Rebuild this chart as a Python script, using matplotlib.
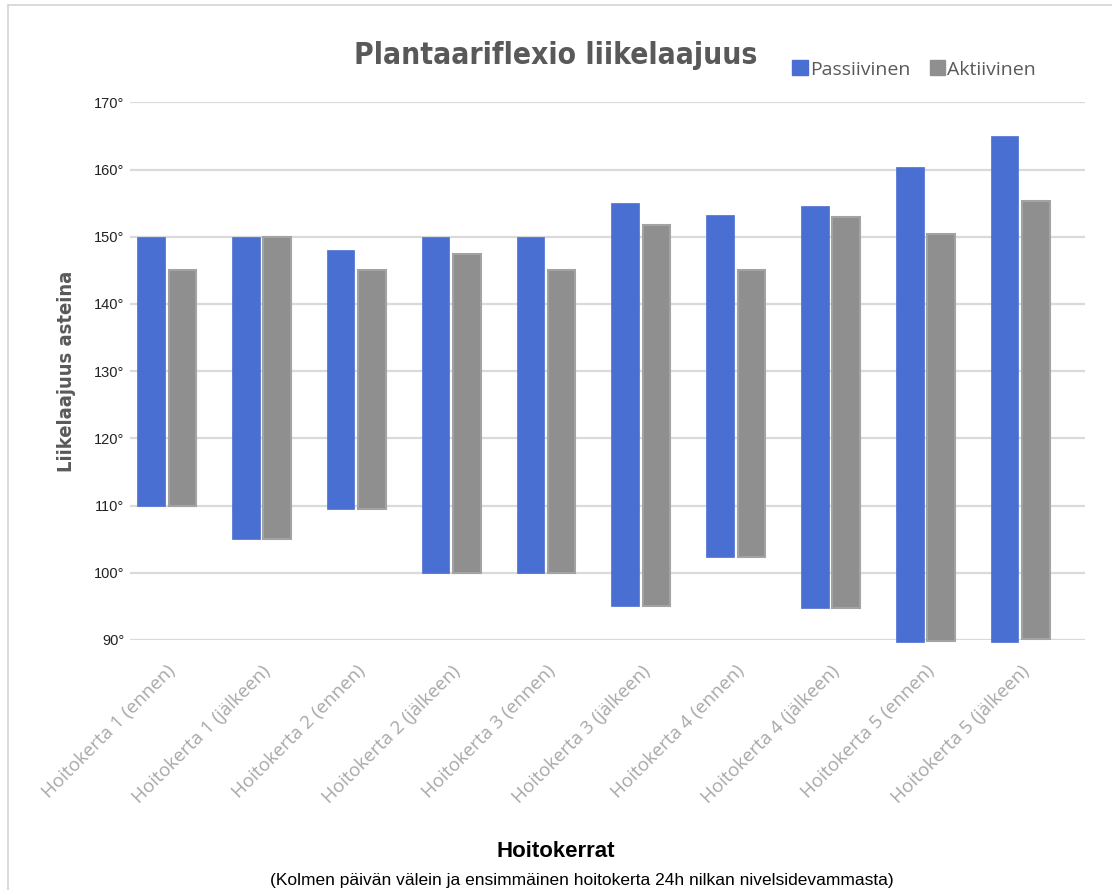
"""Plantaariflexio liikelaajuus - kelluvat palkit (passiivinen / aktiivinen)"""

import numpy as np
import matplotlib
matplotlib.use("Agg")
import matplotlib.pyplot as plt
from matplotlib.patches import Rectangle, Patch

categories = [
    "Hoitokerta 1 (ennen)", "Hoitokerta 1 (jälkeen)",
    "Hoitokerta 2 (ennen)", "Hoitokerta 2 (jälkeen)",
    "Hoitokerta 3 (ennen)", "Hoitokerta 3 (jälkeen)",
    "Hoitokerta 4 (ennen)", "Hoitokerta 4 (jälkeen)",
    "Hoitokerta 5 (ennen)", "Hoitokerta 5 (jälkeen)",
]
passive_low = [110, 105, 109.5, 100, 100, 95, 102.4, 94.7, 89.7, 89.7]
passive_high = [150, 150, 148, 150, 150, 155, 153.2, 154.6, 160.4, 165]
active_low = [110, 105, 109.5, 100, 100, 95, 102.4, 94.7, 89.8, 90.2]
active_high = [145, 150, 145, 147.5, 145, 151.8, 145, 153, 150.4, 155.3]
y_ticks = [90, 100, 110, 120, 130, 140, 150, 160, 170]

BLUE = "#4a6fd3"
GRAY = "#8f8f8f"
TEXT_GRAY = "#595959"

fig = plt.figure(figsize=(11.12, 8.90), dpi=100)
ax = fig.add_axes([0.117, 0.281, 0.859, 0.604])

x = np.arange(len(categories))
w = 0.29
lo_p = np.array(passive_low)
lo_a = np.array(active_low)
ax.bar(x - 0.165, np.array(passive_high) - lo_p, bottom=lo_p, width=w,
       color=BLUE, edgecolor=BLUE, linewidth=0.5, zorder=3)
ax.bar(x + 0.165, np.array(active_high) - lo_a, bottom=lo_a, width=w,
       color=GRAY, edgecolor="#a3a3a3", linewidth=1.5, zorder=3)

ax.set_xlim(-0.385, 9.686)
ax.set_ylim(90, 170)
ax.set_yticks(y_ticks)
ax.set_yticklabels([f"{v}°" for v in y_ticks], fontsize=10.5,
                   family="Liberation Sans", color="#222222")
ax.yaxis.grid(True, color="#dadada", linewidth=1.6, zorder=0)
ax.set_axisbelow(True)
for s in ax.spines.values():
    s.set_visible(False)
ax.tick_params(axis="both", length=0, pad=4)
for b in ax.patches:
    b.set_clip_on(False)

ax.set_xticks(x)
ax.set_xticklabels(categories, rotation=45, ha="right",
                   rotation_mode="anchor", fontsize=13.5, family="Open Sans",
                   color="#a8a8a8")
ax.tick_params(axis="x", pad=16)

ax.set_ylabel("Liikelaajuus asteina", fontsize=14.5, fontweight="bold",
              color=TEXT_GRAY, family="DejaVu Sans", fontstretch="condensed",
              labelpad=13)

fig.text(0.50, 0.938, "Plantaariflexio liikelaajuus", ha="center", va="center",
         fontsize=21.5, fontweight="bold", color=TEXT_GRAY,
         family="DejaVu Sans", fontstretch="condensed")

handles = [Patch(facecolor=BLUE, edgecolor=BLUE, label="Passiivinen"),
           Patch(facecolor=GRAY, edgecolor=GRAY, label="Aktiivinen")]
fig.legend(handles=handles, loc="center", bbox_to_anchor=(0.822, 0.922),
           ncol=2, frameon=False, handlelength=0.8, handleheight=0.8,
           handletextpad=0.1, columnspacing=1.0,
           prop={"family": "Open Sans", "size": 14}, labelcolor=TEXT_GRAY)

fig.text(0.50, 0.043, "Hoitokerrat", ha="center", va="center",
         fontsize=16, fontweight="bold", color="black", family="Liberation Sans")
fig.text(0.523, 0.011, "(Kolmen päivän välein ja ensimmäinen hoitokerta 24h nilkan nivelsidevammasta)",
         ha="center", va="center", fontsize=12.5, color="black",
         family="Liberation Sans")

fig.patches.append(Rectangle((0.007, -0.01), 0.995, 1.004, transform=fig.transFigure,
                             fill=False, edgecolor="#d4d4d4", linewidth=1.2))

fig.savefig("out.png", dpi=100)
